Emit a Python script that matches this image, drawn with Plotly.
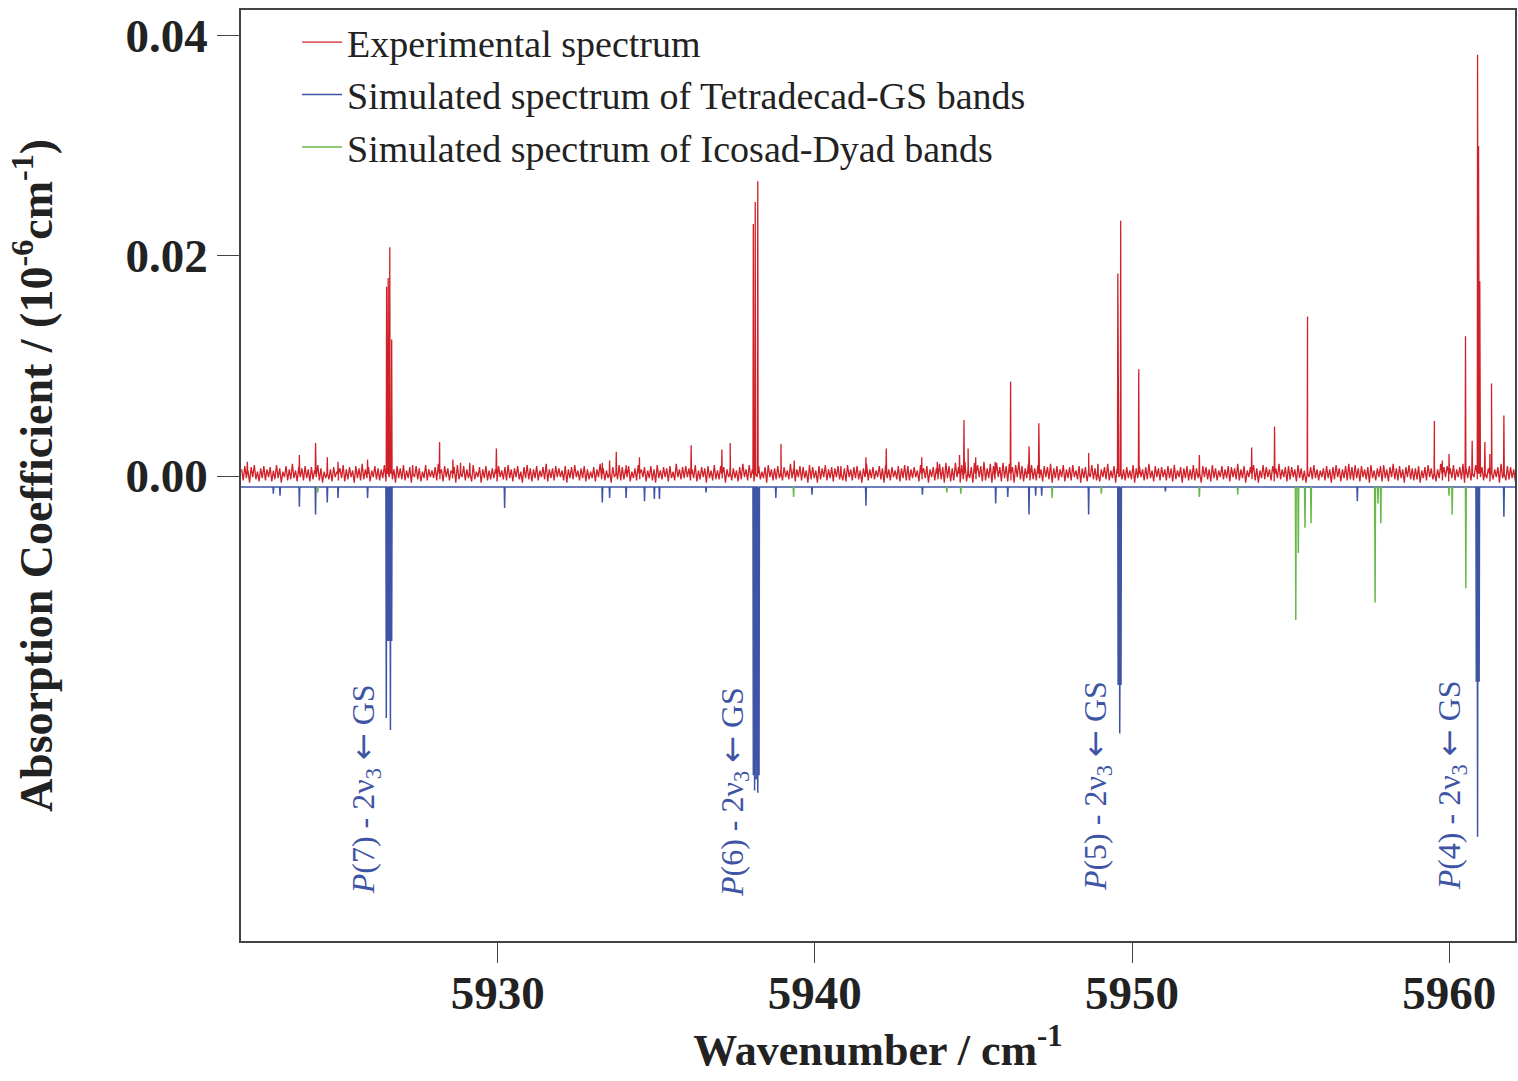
import plotly.graph_objects as go

# ---------------- data ----------------
# Experimental spectrum: line positions (cm-1) and peak absorption (1e-6 cm-1)
exp_pos = [5922.11, 5923.75, 5924.26, 5924.63, 5924.97, 5925.90, 5926.50, 5926.55,
           5926.60, 5926.66, 5927.32, 5928.17, 5928.59, 5928.83, 5929.12, 5929.96,
           5933.30, 5933.53, 5933.74, 5934.05, 5934.47, 5936.10, 5937.07, 5937.33,
           5938.06, 5938.12, 5938.20, 5938.93, 5939.35, 5940.82, 5941.61, 5942.25,
           5943.37, 5943.86, 5944.56, 5944.70, 5944.83, 5945.07, 5945.68, 5946.17,
           5946.75, 5947.06, 5948.63, 5948.92, 5949.55, 5949.64, 5950.21, 5952.12,
           5953.77, 5954.49, 5955.53, 5959.53, 5959.78, 5959.99, 5960.51, 5960.72,
           5960.89, 5960.92, 5960.96, 5961.12, 5961.28, 5961.33, 5961.72]
exp_int = [0.0013, 0.0019, 0.0030, 0.0017, 0.0013, 0.0015, 0.0172, 0.0180,
           0.0208, 0.0124, 0.0010, 0.0031, 0.0015, 0.0012, 0.0012, 0.0025,
           0.0012, 0.0014, 0.0022, 0.0010, 0.0017, 0.0028, 0.0024, 0.0030,
           0.0229, 0.0249, 0.0268, 0.0029, 0.0014, 0.0009, 0.0017, 0.0025,
           0.0017, 0.0013, 0.0019, 0.0051, 0.0025, 0.0017, 0.0013, 0.0086,
           0.0027, 0.0048, 0.0021, 0.0011, 0.0184, 0.0232, 0.0097, 0.0019,
           0.0026, 0.0045, 0.0145, 0.0050, 0.0014, 0.0020, 0.0127, 0.0032,
           0.0383, 0.0300, 0.0177, 0.0031, 0.0020, 0.0084, 0.0055]

# Experimental baseline noise, sampled every 0.05 cm-1 from 5921.93 (units of 1e-4)
noise_start = 5921.93
noise_step = 0.05
noise_e4 = [
    6, -4, 9, -2, 5, -6, 8, -1, 10, -3, 4, -5, 7, -2, 9, -4, 6, -1, 8, -5,
    5, -3, 10, -2, 7, -6, 4, -1, 9, -4, 6, -3, 11, -2, 5, -5, 8, -1, 7, -4,
    9, -2, 6, -5, 8, -3, 5, -1, 10, -4, 7, -6, 4, -2, 9, -3, 6, -5, 8, -1,
    4, -4, 7, -2, 10, -5, 6, -3, 8, -1, 5, -6, 9, -2, 7, -4, 11, -3, 6, -2,
    8, -5, 5, -1, 9, -3, 7, -4, 6, -2, 10, -5, 4, -1, 8, -3, 6, -6, 9, -2,
    7, -3, 10, -4, 5, -2, 8, -6, 6, -1, 9, -3, 7, -5, 4, -2, 10, -4, 6, -1,
    5, -2, 8, -4, 11, -3, 6, -5, 9, -1, 7, -4, 5, -2, 8, -6, 10, -3, 6, -1,
    9, -4, 6, -2, 7, -5, 10, -3, 4, -1, 8, -6, 6, -2, 9, -4, 5, -3, 7, -2,
    6, -5, 9, -1, 5, -3, 8, -4, 10, -2, 6, -5, 7, -1, 9, -3, 4, -6, 8, -2,
    10, -3, 7, -5, 6, -2, 9, -4, 5, -1, 8, -3, 11, -5, 6, -2, 7, -4, 9, -1,
    7, -1, 5, -4, 9, -6, 6, -2, 8, -3, 10, -1, 5, -4, 7, -2, 9, -5, 6, -3,
    4, -2, 8, -5, 6, -1, 11, -3, 7, -4, 5, -2, 9, -6, 8, -1, 6, -3, 10, -4,
    8, -3, 6, -1, 9, -5, 4, -2, 7, -4, 10, -3, 6, -1, 8, -5, 5, -2, 9, -4,
    6, -6, 10, -2, 5, -3, 8, -1, 7, -5, 9, -2, 4, -4, 11, -1, 6, -3, 8, -2,
    9, -1, 7, -4, 6, -2, 10, -5, 5, -3, 8, -1, 7, -6, 9, -2, 5, -4, 10, -3,
    5, -3, 9, -2, 8, -6, 6, -1, 10, -4, 7, -2, 5, -5, 8, -3, 11, -1, 6, -4,
    10, -2, 6, -5, 7, -1, 9, -3, 4, -2, 8, -6, 10, -1, 6, -4, 7, -3, 9, -2,
    6, -4, 8, -1, 5, -3, 11, -2, 7, -5, 6, -1, 9, -4, 8, -2, 5, -6, 10, -3,
    8, -2, 5, -6, 9, -3, 7, -1, 10, -4, 6, -2, 8, -5, 7, -1, 9, -3, 5, -4,
    7, -5, 10, -1, 6, -4, 8, -2, 9, -3, 5, -6, 7, -1, 11, -4, 6, -2, 8, -3,
    5, -1, 9, -3, 7, -6, 10, -2, 6, -4, 8, -1, 5, -3, 9, -5, 7, -2, 10, -4,
    9, -4, 6, -2, 8, -1, 5, -5, 10, -3, 7, -2, 9, -6, 6, -1, 8, -4, 7, -3,
    11, -3, 8, -6, 12, -2, 9, -5, 7, -4, 12, -1, 8, -6, 10, -3, 13, -5, 9, -2,
    8, -6, 12, -3, 10, -1, 9, -5, 13, -4, 7, -2, 11, -6, 9, -3, 12, -1, 8, -5,
    12, -2, 9, -5, 11, -4, 8, -6, 10, -1, 13, -3, 9, -5, 7, -2, 11, -4, 10, -3,
    7, -4, 10, -2, 6, -5, 9, -1, 8, -3, 11, -6, 7, -2, 9, -4, 6, -1, 10, -5,
    6, -2, 8, -4, 10, -1, 5, -3, 9, -6, 7, -2, 8, -5, 6, -1, 10, -3, 7, -4,
    9, -5, 6, -1, 8, -3, 11, -4, 5, -2, 9, -6, 7, -1, 10, -3, 6, -4, 8, -2,
    5, -3, 10, -6, 7, -2, 9, -1, 6, -4, 8, -3, 11, -2, 5, -5, 9, -1, 7, -4,
    8, -1, 6, -4, 9, -2, 7, -5, 10, -3, 5, -1, 8, -6, 7, -2, 9, -4, 6, -3,
    10, -4, 7, -2, 5, -6, 9, -1, 8, -3, 6, -5, 10, -2, 7, -4, 5, -1, 9, -3,
    6, -2, 9, -5, 8, -1, 7, -3, 11, -4, 6, -2, 9, -6, 5, -1, 8, -3, 10, -4,
    7, -6, 5, -2, 10, -3, 8, -1, 6, -4, 9, -5, 7, -2, 11, -3, 6, -1, 8, -5,
    9, -3, 8, -1, 6, -5, 10, -2, 7, -4, 5, -6, 9, -1, 8, -3, 10, -2, 6, -4,
    5, -1, 7, -4, 9, -2, 6, -6, 8, -3, 10, -1, 7, -5, 6, -2, 9, -4, 11, -3,
    8, -4, 10, -2, 7, -5, 9, -1, 6, -3, 8, -6, 10, -2, 5, -4, 7, -1, 9, -5,
    10, -2, 6, -5, 8, -1, 11, -3, 7, -4, 9, -2, 6, -6, 8, -1, 10, -3, 7, -4,
    7, -3, 9, -6, 5, -2, 8, -4, 10, -1, 7, -3, 9, -5, 6, -2, 11, -4, 8, -1,
    9, -5, 7, -2, 10, -4, 6, -1, 8, -3, 11, -6, 7, -2, 9, -4, 5, -1, 10, -3,
    6, -1, 8, -4, 9, -2, 7, -5, 10, -3, 6, -1, 8, -6, 11, -2, 7, -4, 9, -3,
    8, -2, 6, -5, 9]

# Simulated Tetradecad-GS lines (plotted downward from the offset baseline)
tet_pos = [5922.93, 5923.14, 5923.75, 5924.26, 5924.63, 5924.97, 5925.90,
           5926.49, 5926.53, 5926.57, 5926.62, 5926.66, 5930.22, 5933.30,
           5933.53, 5934.05, 5934.63, 5934.94, 5935.10, 5936.57, 5938.06,
           5938.10, 5938.15, 5938.20, 5938.24, 5938.77, 5939.91, 5941.61,
           5943.39, 5945.70, 5946.08, 5946.75, 5946.96, 5947.15, 5948.63,
           5949.56, 5949.61, 5949.65, 5951.05, 5957.10, 5960.85, 5960.89,
           5960.94, 5961.72]
tet_int = [0.0006, 0.0008, 0.0018, 0.0025, 0.0014, 0.0010, 0.0010,
           0.0210, 0.0140, 0.0140, 0.0221, 0.0140, 0.0019, 0.0014,
           0.0010, 0.0010, 0.0013, 0.0011, 0.0011, 0.0005, 0.0262,
           0.0276, 0.0266, 0.0278, 0.0262, 0.0010, 0.0007, 0.0017,
           0.0007, 0.0015, 0.0009, 0.0025, 0.0008, 0.0008, 0.0025,
           0.0180, 0.0224, 0.0180, 0.0004, 0.0013, 0.0177, 0.0318,
           0.0177, 0.0027]

# Simulated Icosad-Dyad lines
ico_pos = [5924.33, 5939.33, 5944.16, 5944.60, 5947.48, 5949.03, 5952.12,
           5953.33, 5955.16, 5955.24, 5955.45, 5955.64, 5957.66, 5957.75,
           5957.84, 5959.99, 5960.09, 5960.52]
ico_int = [0.0005, 0.0009, 0.0005, 0.0006, 0.0010, 0.0006, 0.0009,
           0.0007, 0.0121, 0.0060, 0.0037, 0.0033, 0.0105, 0.0015,
           0.0033, 0.0008, 0.0025, 0.0092]

sim_offset = -0.001          # simulated spectra drawn below this baseline
exp_base = 0.0002            # experimental baseline level

ARROW = '<span style="font-family:DejaVu Sans">←</span>'
band_labels = ["<i>P</i>(7) - 2ν<sub>3</sub> " + ARROW + " GS",
               "<i>P</i>(6) - 2ν<sub>3</sub> " + ARROW + " GS",
               "<i>P</i>(5) - 2ν<sub>3</sub> " + ARROW + " GS",
               "<i>P</i>(4) - 2ν<sub>3</sub> " + ARROW + " GS"]
band_label_x = [5925.81, 5937.43, 5948.89, 5960.06]
band_label_y = [-0.0285, -0.0287, -0.0282, -0.0281]

x_range = [5921.91, 5962.07]
y_range = [-0.04227, 0.04236]
x_ticks = [5930, 5940, 5950, 5960]
y_ticks = [0.0, 0.02, 0.04]
y_ticktext = ["0.00", "0.02", "0.04"]

RED = "rgb(208,32,40)"
BLUE = "rgb(62,84,164)"
GREEN = "rgb(104,184,72)"
SERIF = "Liberation Serif"

# ---------------- build traces ----------------
hw = 0.012
pts = [(noise_start + i * noise_step, v * 1e-4) for i, v in enumerate(noise_e4)]
for p, h in zip(exp_pos, exp_int):
    pts += [(p - hw, exp_base), (p, h), (p + hw, exp_base)]
pts.sort(key=lambda t: t[0])
ex = [t[0] for t in pts]
ey = [t[1] for t in pts]

tpts = [(x_range[0], sim_offset), (x_range[1], sim_offset)]
for p, h in zip(tet_pos, tet_int):
    tpts += [(p - hw, sim_offset), (p, sim_offset - h), (p + hw, sim_offset)]
tpts.sort(key=lambda t: t[0])
tx = [t[0] for t in tpts]
ty = [t[1] for t in tpts]

gx, gy = [], []
for p, h in zip(ico_pos, ico_int):
    gx += [p - hw, p, p + hw, None]
    gy += [sim_offset, sim_offset - h, sim_offset, None]

fig = go.Figure()
fig.add_trace(go.Scatter(x=ex, y=ey, mode="lines", name="Experimental spectrum",
                         line=dict(color=RED, width=1.3)))
fig.add_trace(go.Scatter(x=tx, y=ty, mode="lines",
                         name="Simulated spectrum of Tetradecad-GS bands",
                         line=dict(color=BLUE, width=1.5)))
fig.add_trace(go.Scatter(x=gx, y=gy, mode="lines",
                         name="Simulated spectrum of Icosad-Dyad bands",
                         line=dict(color=GREEN, width=1.5)))

for txt, lx, ly in zip(band_labels, band_label_x, band_label_y):
    fig.add_annotation(x=lx, y=ly, text=txt, textangle=-90, showarrow=False,
                       font=dict(family=SERIF, size=32, color=BLUE),
                       xanchor="center", yanchor="middle")

fig.update_layout(
    width=1518, height=1081,
    margin=dict(l=241, r=1, t=10, b=140),
    plot_bgcolor="white", paper_bgcolor="white",
    font=dict(family=SERIF, color="#222"),
    showlegend=True,
    legend=dict(x=0.044, y=0.999, xanchor="left", yanchor="top",
                bgcolor="rgba(0,0,0,0)", font=dict(family=SERIF, size=38, color="#222"),
                tracegroupgap=0, itemwidth=40),
)
fig.update_xaxes(range=x_range, tickvals=x_ticks, ticks="outside", ticklen=20,
                 tickcolor="#444", showline=True, linecolor="#444", linewidth=1.5,
                 mirror=True, showgrid=False, zeroline=False, ticklabelstandoff=-10,
                 tickfont=dict(family=SERIF, size=47, color="#222", weight="bold"),
                 title=dict(text="<b>Wavenumber / cm<sup>-1</sup></b>",
                            font=dict(family=SERIF, size=44, color="#222"), standoff=14))
fig.update_yaxes(range=y_range, tickvals=y_ticks, ticktext=y_ticktext, ticks="outside",
                 ticklen=22, tickcolor="#444", showline=True, linecolor="#444",
                 linewidth=1.5, mirror=True, showgrid=False, zeroline=False,
                 tickfont=dict(family=SERIF, size=47, color="#222", weight="bold"),
                 title=dict(text="<b>Absorption Coefficient / (10<sup>-6</sup>cm<sup>-1</sup>)</b>",
                            font=dict(family=SERIF, size=46, color="#222"), standoff=58))

fig.write_html("out.html", config={"displayModeBar": False},
               post_script="document.body.style.margin='0';")
